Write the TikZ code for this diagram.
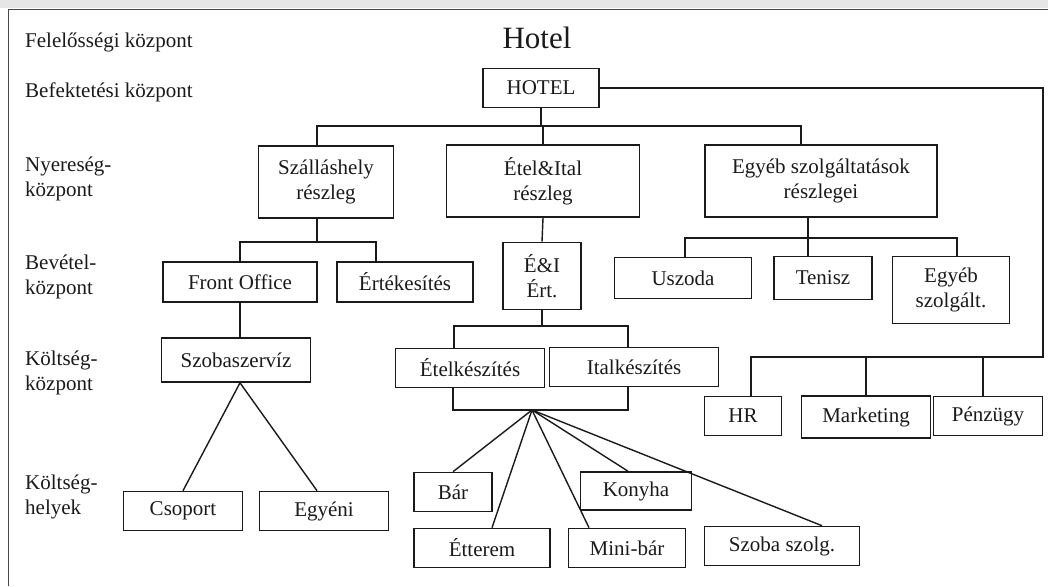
\documentclass[tikz,border=0pt]{standalone}
\usepackage{fontspec}
\setmainfont{Liberation Serif}
\usetikzlibrary{calc}
\definecolor{ink}{HTML}{1A1A1A}
\definecolor{band}{HTML}{E6E6E6}
\begin{document}
\begin{tikzpicture}[x=1pt,y=-1pt,
  txt/.style={font=\fontsize{21}{25}\selectfont, text=ink, inner sep=0pt},
  lvl/.style={txt, anchor=west, align=left},
  box/.style={txt, draw=ink, line width=1.6pt, align=center},
  link/.style={draw=ink, line width=1.4pt},
  frameline/.style={draw=ink!80, line width=1pt}]
\useasboundingbox (0,0) rectangle (1048,586);
\fill[band] (0,0) rectangle (1048,8);
\draw[frameline] (1048,10) -- (8,10) -- (8,586);

% level labels
\node[lvl] (l1) at (25,42) {Felelősségi központ};
\node[lvl] (l2) at (25,92) {Befektetési központ};
\node[lvl] (l3) at (25,179) {Nyereség-\\központ};
\node[lvl] (l4) at (25,277) {Bevétel-\\központ};
\node[lvl] (l5) at (25,373) {Költség-\\központ};
\node[lvl] (l6) at (25,497) {Költség-\\helyek};

\node[txt, font=\fontsize{31}{34}\selectfont] (title) at (537,38) {Hotel};

% boxes
\node[box, minimum width=116pt, minimum height=39pt] (hotel) at (541,88) {HOTEL};
\node[box, minimum width=135pt, minimum height=72pt] (szall) at (326,182) {Szálláshely\\részleg};
\node[box, minimum width=193pt, minimum height=72pt] (etel) at (543,181) {Étel\&Ital\\részleg};
\node[box, minimum width=232pt, minimum height=72pt] (egyeb) at (821,181) {Egyéb szolgáltatások\\részlegei};
\node[box, minimum width=154pt, minimum height=40pt] (front) at (240,282) {Front Office};
\node[box, minimum width=136pt, minimum height=40pt] (ertek) at (405,282) {Értékesítés};
\node[box, minimum width=78pt, minimum height=67pt] (eni) at (542,276) {É\&I\\Ért.};
\node[box, minimum width=137pt, minimum height=41pt] (uszoda) at (683,278) {Uszoda};
\node[box, minimum width=98pt, minimum height=43pt] (tenisz) at (823,278) {Tenisz};
\node[box, minimum width=117pt, minimum height=67pt] (egyebsz) at (951,290) {Egyéb\\szolgált.};
\node[box, minimum width=149pt, minimum height=44pt] (szoba) at (236,360) {Szobaszervíz};
\node[box, minimum width=149pt, minimum height=39pt] (etelk) at (470,368) {Ételkészítés};
\node[box, minimum width=169pt, minimum height=39pt] (italk) at (634,367) {Italkészítés};
\node[box, minimum width=77pt, minimum height=39pt] (hr) at (743,416) {HR};
\node[box, minimum width=129pt, minimum height=42pt] (mark) at (866,417) {Marketing};
\node[box, minimum width=109pt, minimum height=39pt] (penz) at (988,416) {Pénzügy};
\node[box, minimum width=119pt, minimum height=39pt] (csop) at (183,511) {Csoport};
\node[box, minimum width=129pt, minimum height=39pt] (egyeni) at (324,511) {Egyéni};
\node[box, minimum width=78pt, minimum height=39pt] (bar) at (453,492) {Bár};
\node[box, minimum width=111pt, minimum height=38pt] (konyha) at (636,491) {Konyha};
\node[box, minimum width=136pt, minimum height=39pt] (etterem) at (482,548) {Étterem};
\node[box, minimum width=117pt, minimum height=39pt] (minibar) at (627,548) {Mini-bár};
\node[box, minimum width=155pt, minimum height=39pt] (szobasz) at (782,546) {Szoba szolg.};

% bus points
\coordinate (bA) at (317,126);
\coordinate (bB) at (801,126);
\coordinate (sA) at (240,242);
\coordinate (sB) at (376,242);
\coordinate (eA) at (454,326);
\coordinate (eB) at (628,326);
\coordinate (fA) at (453,410);
\coordinate (fB) at (628,410);
\coordinate (fan) at (532,410);
\coordinate (gA) at (685,238);
\coordinate (gM) at (808,238);
\coordinate (gB) at (957,238);
\coordinate (cR) at (1043,357);
\coordinate (cL) at (751,357);
\coordinate (cP) at (983,357);

% hotel level
\draw[link] (hotel.south) -- (hotel.south |- bA);
\draw[link] (szall.north -| bA) -- (bA) -- (bB) -- (egyeb.north -| bB);
\draw[link] (etel.north) -- (etel.north |- bA);

% support functions
\draw[link] (hotel.east) -- (hotel.east -| cR) -- (cR) -- (cL) -- (hr.north -| cL);
\draw[link] (mark.north) -- (mark.north |- cR);
\draw[link] (cP) -- (penz.north -| cP);

% accommodation branch
\draw[link] (szall.south -| bA) -- (bA |- sA);
\draw[link] (front.north -| sA) -- (sA) -- (sB) -- (ertek.north -| sB);
\draw[link] (front.south) -- (szoba.north -| front.south);
\coordinate (apex) at (szoba.south -| front.south);
\draw[link] (csop.north) -- (apex) -- ($(egyeni.north)+(-7,0)$);

% food & beverage branch
\draw[link] (etel.south) -- (eni.north);
\draw[link] (eni.south) -- (eni.south |- eA);
\draw[link] (etelk.north -| eA) -- (eA) -- (eB) -- (italk.north -| eB);
\draw[link] (etelk.south -| fA) -- (fA) -- (fB) -- (italk.south -| fB);
\draw[link] (fan) -- (bar.north);
\draw[link] (fan) -- ($(etterem.north)+(10,0)$);
\draw[link] (fan) -- ($(minibar.north)+(-38,0)$);
\draw[link] (fan) -- ($(konyha.north)+(-8,0)$);
\draw[link] (fan) -- ($(szobasz.north)+(40,0)$);

% other services branch
\draw[link] (egyeb.south -| gM) -- (gM);
\draw[link] (uszoda.north -| gA) -- (gA) -- (gB) -- (egyebsz.north -| gB);
\draw[link] (gM) -- (tenisz.north -| gM);
\end{tikzpicture}
\end{document}
